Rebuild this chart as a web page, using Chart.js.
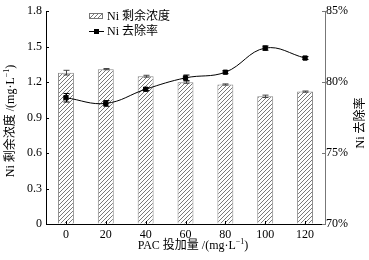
<!DOCTYPE html>
<html><head><meta charset="utf-8">
<script src="https://cdn.jsdelivr.net/npm/chart.js@4"></script>
<style>html,body{margin:0;padding:0;background:#fff}#wrap{width:369px;height:260px}</style>
</head><body><div id="wrap"><canvas id="c" width="369" height="260"></canvas></div>
<script>
const categories = ['0','20','40','60','80','100','120'];
const residual = [1.28, 1.31, 1.25, 1.20, 1.18, 1.08, 1.12];
const residualErr = [0.02, 0.005, 0.008, 0.01, 0.005, 0.01, 0.005];
const removal = [78.9, 78.5, 79.5, 80.3, 80.7, 82.4, 81.7];
const removalErr = [0.3, 0.2, 0.1, 0.2, 0.1, 0.15, 0.1];
const leftTickValues = [0, 0.3, 0.6, 0.9, 1.2, 1.5, 1.8];
const rightTickValues = [70, 75, 80, 85];
const labelResidual = 'Ni 剩余浓度';
const labelRemoval = 'Ni 去除率';
// titles as [text, isSuperscript] parts
const titleX = [['PAC 投加量 /(mg·L', false], ['−1', true], [')', false]];
const titleLeft = [['Ni 剩余浓度 /(mg·L', false], ['−1', true], [')', false]];
const titleRight = [['Ni 去除率', false]];

const FONT = '"Liberation Serif", "Noto Sans CJK SC", serif';

function makeHatch() {
  const c = document.createElement('canvas');
  c.width = 4; c.height = 4;
  const g = c.getContext('2d');
  g.fillStyle = '#fff'; g.fillRect(0, 0, 4, 4);
  g.strokeStyle = '#6a6a6a'; g.lineWidth = 0.9;
  g.beginPath();
  g.moveTo(0, 4); g.lineTo(4, 0);
  g.moveTo(-1, 1); g.lineTo(1, -1);
  g.moveTo(3, 5); g.lineTo(5, 3);
  g.stroke();
  return g.createPattern(c, 'repeat');
}
const hatch = makeHatch();

function drawRich(ctx, parts, cx, cy, rot) {
  const big = '12px ' + FONT, small = '8px ' + FONT;
  let w = 0;
  parts.forEach(([t, sup]) => { ctx.font = sup ? small : big; w += ctx.measureText(t).width; });
  ctx.save();
  ctx.translate(cx, cy);
  if (rot) ctx.rotate(rot);
  ctx.textAlign = 'left'; ctx.textBaseline = 'middle';
  let x = -w / 2;
  parts.forEach(([t, sup]) => {
    ctx.font = sup ? small : big;
    ctx.fillText(t, x, sup ? -4 : 0);
    x += ctx.measureText(t).width;
  });
  ctx.restore();
}

const extras = {
  id: 'extras',
  afterDatasetsDraw(chart) {
    const ctx = chart.ctx;
    const x = chart.scales.x, y = chart.scales.y, y2 = chart.scales.y2;
    ctx.save();
    ctx.strokeStyle = '#444'; ctx.lineWidth = 1;
    residual.forEach((v, i) => {
      const px = Math.round(x.getPixelForValue(i)) + 0.5;
      const t = y.getPixelForValue(v + residualErr[i]);
      const b = y.getPixelForValue(v - residualErr[i]);
      ctx.beginPath();
      ctx.moveTo(px, t); ctx.lineTo(px, b);
      ctx.moveTo(px - 3, t); ctx.lineTo(px + 3, t);
      ctx.moveTo(px - 3, b); ctx.lineTo(px + 3, b);
      ctx.stroke();
    });
    ctx.strokeStyle = '#000';
    removal.forEach((v, i) => {
      const px = Math.round(x.getPixelForValue(i)) + 0.5;
      const t = y2.getPixelForValue(v + removalErr[i]);
      const b = y2.getPixelForValue(v - removalErr[i]);
      ctx.beginPath();
      ctx.moveTo(px, t); ctx.lineTo(px, b);
      ctx.moveTo(px - 3, t); ctx.lineTo(px + 3, t);
      ctx.moveTo(px - 3, b); ctx.lineTo(px + 3, b);
      ctx.stroke();
    });
    ctx.restore();
  },
  afterDraw(chart) {
    const ctx = chart.ctx;
    const x = chart.scales.x, y = chart.scales.y, y2 = chart.scales.y2;
    const a = chart.chartArea;
    ctx.save();
    ctx.lineWidth = 1;
    ctx.strokeStyle = '#000';
    ctx.beginPath();
    leftTickValues.forEach(v => {
      const py = Math.round(y.getPixelForValue(v)) + 0.5;
      ctx.moveTo(a.left, py); ctx.lineTo(a.left + 3, py);
    });
    categories.forEach((c, i) => {
      const px = Math.round(x.getPixelForValue(i)) + 0.5;
      ctx.moveTo(px, a.bottom); ctx.lineTo(px, a.bottom - 3);
    });
    ctx.stroke();
    ctx.strokeStyle = '#777';
    ctx.beginPath();
    rightTickValues.forEach(v => {
      const py = Math.round(y2.getPixelForValue(v)) + 0.5;
      ctx.moveTo(a.right, py); ctx.lineTo(a.right - 3, py);
    });
    ctx.stroke();
    ctx.fillStyle = '#000';
    drawRich(ctx, titleX, 193, 246, 0);
    drawRich(ctx, titleLeft, 11, 121, -Math.PI / 2);
    drawRich(ctx, titleRight, 361, 123, -Math.PI / 2);
    // legend
    ctx.fillStyle = hatch;
    ctx.fillRect(89, 13, 14, 6);
    ctx.strokeStyle = '#777';
    ctx.strokeRect(89.5, 13.5, 13, 5);
    ctx.strokeStyle = '#000';
    ctx.beginPath(); ctx.moveTo(89, 31.5); ctx.lineTo(104, 31.5); ctx.stroke();
    ctx.fillStyle = '#000';
    ctx.fillRect(94, 29, 5, 5);
    ctx.font = '12px ' + FONT;
    ctx.textAlign = 'left'; ctx.textBaseline = 'middle';
    ctx.fillText(labelResidual, 107, 16.5);
    ctx.fillText(labelRemoval, 107, 32);
    ctx.restore();
  }
};

new Chart(document.getElementById('c'), {
  data: {
    labels: categories,
    datasets: [
      {
        type: 'line', label: labelRemoval, data: removal, yAxisID: 'y2', order: 0,
        borderColor: '#000', borderWidth: 1, tension: 0.4,
        pointStyle: 'rect', pointRadius: 3, pointBackgroundColor: '#000', pointBorderColor: '#000'
      },
      {
        type: 'bar', label: labelResidual, data: residual, yAxisID: 'y', order: 1,
        backgroundColor: hatch, borderColor: '#888', borderWidth: 1,
        categoryPercentage: 1, barPercentage: 0.4
      }
    ]
  },
  options: {
    responsive: false, devicePixelRatio: 1, animation: false,
    layout: { padding: { top: 10, left: 0, right: 0, bottom: 0 } },
    plugins: { legend: { display: false }, tooltip: { enabled: false } },
    scales: {
      x: {
        type: 'category', offset: true,
        grid: { display: true, drawOnChartArea: false, drawTicks: false },
        border: { color: '#000', width: 1 },
        ticks: { color: '#000', font: { family: FONT, size: 12 }, padding: 4, maxRotation: 0 },
        afterFit(s) { s.height = 36; }
      },
      y: {
        position: 'left', min: 0, max: 1.8,
        grid: { display: true, drawOnChartArea: false, drawTicks: false },
        border: { color: '#000', width: 1 },
        ticks: {
          color: '#000', font: { family: FONT, size: 12 }, padding: 4, stepSize: 0.3,
          callback: v => (Math.abs(v) < 1e-9 ? '0' : v.toFixed(1))
        },
        afterFit(s) { s.width = 46; }
      },
      y2: {
        position: 'right', min: 70, max: 85,
        grid: { display: true, drawOnChartArea: false, drawTicks: false },
        border: { color: '#777', width: 1 },
        ticks: {
          color: '#000', font: { family: FONT, size: 12 }, padding: 1, stepSize: 5,
          callback: v => v + '%'
        },
        afterFit(s) { s.width = 44; }
      }
    }
  },
  plugins: [extras]
});
</script>
</body></html>
